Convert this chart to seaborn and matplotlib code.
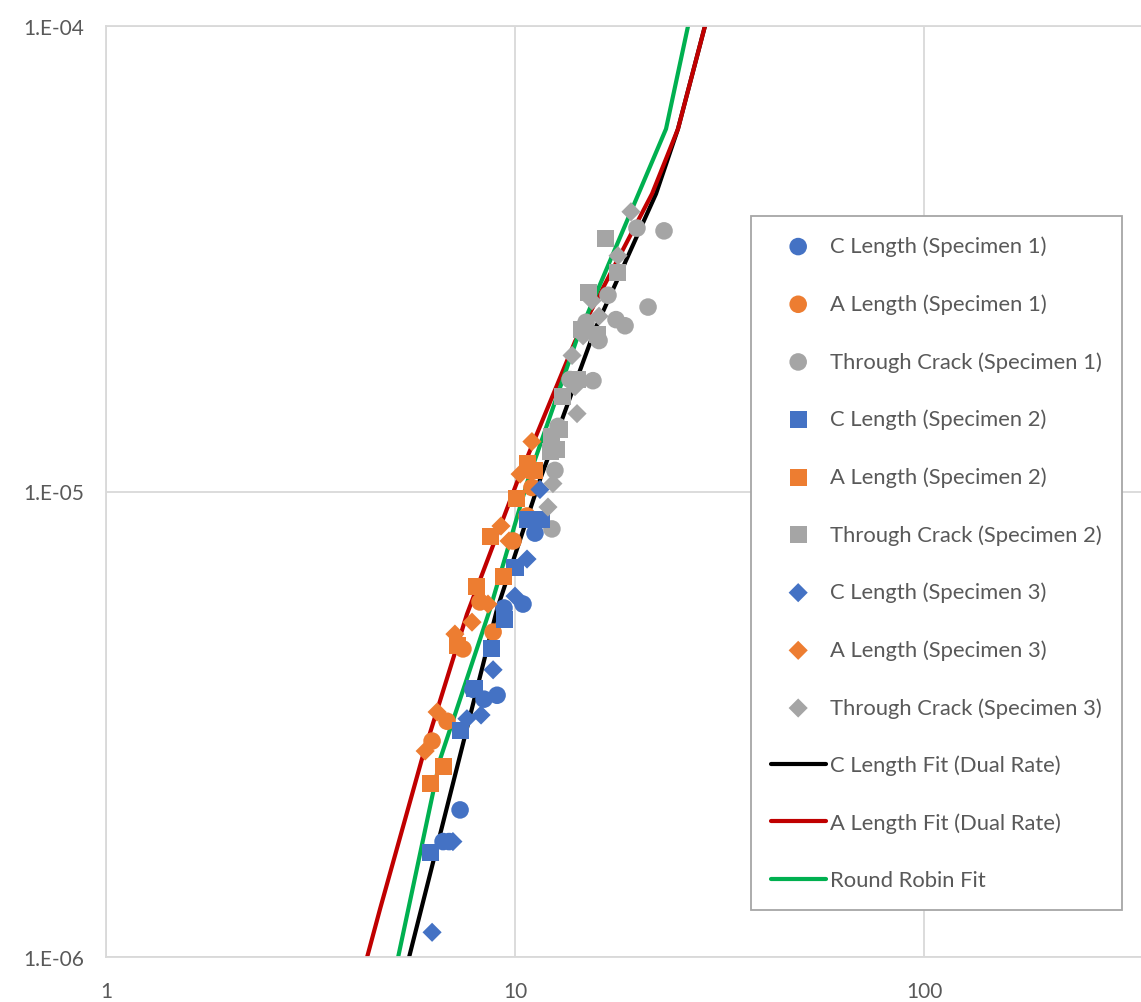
import matplotlib
matplotlib.use("Agg")
import matplotlib.pyplot as plt
import seaborn as sns
import pandas as pd
from matplotlib.ticker import FixedLocator, FixedFormatter, NullLocator

sns.set_style("white")
plt.rcParams['font.family'] = ['Lato', 'DejaVu Sans']

# ---- data (ΔK, da/dN) ----
c1_x = [7.34, 6.67, 6.90, 7.89, 8.40, 9.04, 9.40, 10.46, 11.19]
c1_y = [2.07e-6, 1.77e-6, 1.77e-6, 3.76e-6, 3.58e-6, 3.65e-6, 5.62e-6, 5.73e-6, 8.14e-6]

a1_x = [6.27, 6.82, 7.46, 8.21, 8.84, 9.89, 10.70, 11.00]
a1_y = [2.91e-6, 3.21e-6, 4.59e-6, 5.79e-6, 4.99e-6, 7.83e-6, 8.86e-6, 1.02e-5]

t1_x = [12.52, 12.31, 12.74, 13.63, 15.51, 16.05, 14.92, 17.66, 18.58, 16.88, 21.15, 19.87, 23.14]
t1_y = [1.11e-5, 8.31e-6, 1.38e-5, 1.74e-5, 1.73e-5, 2.11e-5, 2.31e-5, 2.34e-5, 2.27e-5, 2.64e-5, 2.49e-5, 3.68e-5, 3.63e-5]

c2_x = [6.23, 7.34, 7.98, 8.78, 9.45, 10.0, 10.70, 11.58]
c2_y = [1.68e-6, 3.06e-6, 3.78e-6, 4.59e-6, 5.30e-6, 6.88e-6, 8.69e-6, 8.69e-6]

a2_x = [6.20, 6.67, 7.25, 8.07, 9.35, 8.69, 10.11, 10.70, 11.19]
a2_y = [2.36e-6, 2.57e-6, 4.66e-6, 6.26e-6, 6.58e-6, 7.99e-6, 9.64e-6, 1.15e-5, 1.11e-5]

t2_x = [16.69, 17.76, 15.09, 14.58, 15.87, 14.18, 13.10, 12.88, 12.31, 12.66, 12.18]
t2_y = [3.49e-5, 2.95e-5, 2.68e-5, 2.23e-5, 2.17e-5, 1.74e-5, 1.60e-5, 1.36e-5, 1.31e-5, 1.23e-5, 1.22e-5]

c3_x = [6.27, 7.05, 7.63, 8.26, 8.84, 10.0, 10.70, 11.51]
c3_y = [1.13e-6, 1.77e-6, 3.25e-6, 3.31e-6, 4.14e-6, 5.96e-6, 7.16e-6, 1.01e-5]

a3_x = [6.03, 6.45, 7.13, 7.85, 8.59, 9.24, 9.67, 10.29, 11.00]
a3_y = [2.77e-6, 3.36e-6, 4.94e-6, 5.24e-6, 5.73e-6, 8.43e-6, 7.83e-6, 1.09e-5, 1.28e-5]

t3_x = [19.21, 17.86, 15.43, 16.05, 14.67, 13.79, 14.02, 14.18, 12.38, 12.04]
t3_y = [3.99e-5, 3.21e-5, 2.57e-5, 2.38e-5, 2.16e-5, 1.96e-5, 1.68e-5, 1.47e-5, 1.04e-5, 9.26e-6]

cfit_x = [5.51, 7.30, 9.04, 11.51, 15.69, 22.12, 25.03, 29.14]
cfit_y = [1.0e-6, 2.66e-6, 5.59e-6, 1.06e-5, 2.23e-5, 4.36e-5, 6.01e-5, 1.0e-4]

afit_x = [4.35, 4.68, 5.92, 7.63, 10.17, 14.02, 21.63, 25.03, 29.14]
afit_y = [1.0e-6, 1.27e-6, 2.66e-6, 5.45e-6, 1.06e-5, 2.10e-5, 4.36e-5, 6.01e-5, 1.0e-4]

rr_x = [5.18, 6.56, 8.69, 10.76, 14.18, 23.40, 26.49]
rr_y = [1.0e-6, 2.66e-6, 5.59e-6, 1.06e-5, 2.13e-5, 6.01e-5, 1.0e-4]

x_ticks = [1, 10, 100]
x_tick_labels = ["1", "10", "100"]
y_ticks = [1e-6, 1e-5, 1e-4]
y_tick_labels = ["1.E-06", "1.E-05", "1.E-04"]

BLUE, ORANGE, GREY = "#4472C4", "#ED7D31", "#A5A5A5"

W, H = 1141, 1003
fig = plt.figure(figsize=(W / 100, H / 100), dpi=100)
ax_left, ax_top, ax_bottom = 106, 27, 958
decade_px = 409
ax = fig.add_axes([ax_left / W, 1 - ax_bottom / H, 3 * decade_px / W, (ax_bottom - ax_top) / H])

scatter_series = [
    (c1_x, c1_y, BLUE, "o", "C Length (Specimen 1)"),
    (a1_x, a1_y, ORANGE, "o", "A Length (Specimen 1)"),
    (t1_x, t1_y, GREY, "o", "Through Crack (Specimen 1)"),
    (c2_x, c2_y, BLUE, "s", "C Length (Specimen 2)"),
    (a2_x, a2_y, ORANGE, "s", "A Length (Specimen 2)"),
    (t2_x, t2_y, GREY, "s", "Through Crack (Specimen 2)"),
    (c3_x, c3_y, BLUE, "D", "C Length (Specimen 3)"),
    (a3_x, a3_y, ORANGE, "D", "A Length (Specimen 3)"),
    (t3_x, t3_y, GREY, "D", "Through Crack (Specimen 3)"),
]
sizes = {"o": 160, "s": 150, "D": 95}
for xs, ys, col, mk, lab in scatter_series:
    sns.scatterplot(x=xs, y=ys, color=col, marker=mk, s=sizes[mk], edgecolor="none",
                    linewidth=0, label=lab, ax=ax, zorder=3)

line_series = [
    (cfit_x, cfit_y, "#000000", "C Length Fit (Dual Rate)"),
    (afit_x, afit_y, "#C00000", "A Length Fit (Dual Rate)"),
    (rr_x, rr_y, "#00B050", "Round Robin Fit"),
]
for xs, ys, col, lab in line_series:
    df = pd.DataFrame({"x": xs, "y": ys})
    sns.lineplot(data=df, x="x", y="y", color=col, linewidth=3.0, sort=False,
                 estimator=None, label=lab, ax=ax, zorder=2)

ax.set_xscale("log")
ax.set_yscale("log")
ax.set_xlim(1, 1000)
ax.set_ylim(1e-6, 1e-4)
ax.xaxis.set_major_locator(FixedLocator(x_ticks))
ax.xaxis.set_major_formatter(FixedFormatter(x_tick_labels))
ax.yaxis.set_major_locator(FixedLocator(y_ticks))
ax.yaxis.set_major_formatter(FixedFormatter(y_tick_labels))
ax.xaxis.set_minor_locator(NullLocator())
ax.yaxis.set_minor_locator(NullLocator())
ax.set_xlabel("")
ax.set_ylabel("")
ax.grid(True, which="major", color="#D9D9D9", linewidth=1.3)
ax.set_axisbelow(True)
for sp in ax.spines.values():
    sp.set_color("#D9D9D9")
    sp.set_linewidth(1.3)
ax.tick_params(axis="both", length=0, labelsize=15, labelcolor="#595959")
ax.tick_params(axis="x", pad=17)
ax.tick_params(axis="y", pad=16)

leg = ax.legend(loc="upper left", bbox_to_anchor=(751 / W, 1 - 217 / H),
                bbox_transform=fig.transFigure, borderaxespad=0,
                fontsize=15.8, frameon=True, fancybox=False, framealpha=1,
                edgecolor="#A6A6A6", labelspacing=1.69, handlelength=2.5,
                handletextpad=0.2, borderpad=0.9, labelcolor="#595959")
leg.get_frame().set_linewidth(1.3)

fig.savefig("out.png", dpi=100)
